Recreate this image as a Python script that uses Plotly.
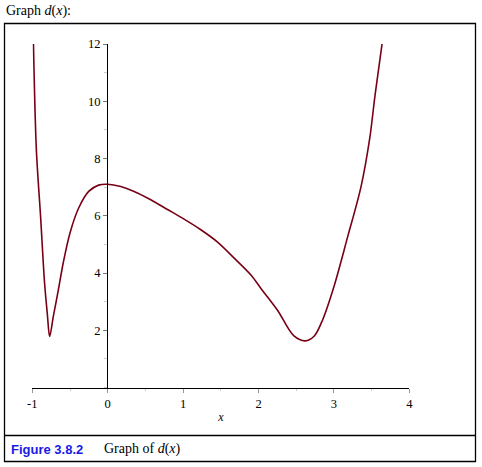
import plotly.graph_objects as go

# Curve values
x_vals = [-0.985, -0.946, -0.89, -0.837, -0.80, -0.77, -0.72, -0.655, -0.59,
          -0.5, -0.385, -0.252, -0.12, 0.0, 0.173, 0.35, 0.571, 0.793, 1.013,
          1.235, 1.457, 1.678, 1.90, 2.03, 2.25, 2.47, 2.62, 2.74, 2.85,
          3.0, 3.183, 3.36, 3.475, 3.545, 3.64]
d_vals = [12.05, 8.3, 5.97, 3.64, 2.55, 1.78, 2.5, 3.4, 4.35,
          5.4, 6.27, 6.85, 7.07, 7.1, 7.02, 6.85, 6.56, 6.22, 5.88,
          5.51, 5.08, 4.52, 3.93, 3.47, 2.71, 1.8, 1.63, 1.8, 2.36,
          3.52, 5.27, 7.02, 8.7, 10.2, 12.03]

x_ticks = [-1, 0, 1, 2, 3, 4]
x_tick_text = ["-1", "0", "1", "2", "3", "4"]
y_ticks = [2, 4, 6, 8, 10, 12]
y_tick_text = ["2", "4", "6", "8", "10", "12"]

W, H = 482, 467
def px(x):
    return x / W
def py(y):
    return 1 - y / H

fig = go.Figure()
fig.add_trace(go.Scatter(
    x=x_vals, y=d_vals, mode="lines",
    line=dict(color="rgb(120,0,20)", width=1.6, shape="spline", smoothing=0.9),
    hoverinfo="skip", showlegend=False,
))

serif = "Liberation Serif, Times New Roman, serif"

fig.update_layout(
    width=W, height=H,
    margin=dict(l=0, r=0, t=0, b=0, pad=0),
    paper_bgcolor="white", plot_bgcolor="white",
    xaxis=dict(
        domain=[px(32.3), px(409.3)], range=[-1, 4],
        automargin=False,
        showgrid=False, zeroline=False,
        showline=True, linecolor="black", linewidth=1,
        tickvals=x_ticks, ticktext=x_tick_text,
        ticks="outside", ticklen=4, tickcolor="#999",
        minor=dict(dtick=0.5, ticks="outside", ticklen=2, tickcolor="#ccc"),
        tickfont=dict(family=serif, size=12.5, color="black"),
        title=dict(text="<i>x</i>", font=dict(family=serif, size=12, color="black"), standoff=3),
        fixedrange=True,
    ),
    yaxis=dict(
        domain=[py(387.5), py(44)], range=[0, 12],
        automargin=False,
        anchor="free", position=px(107),
        showgrid=False, zeroline=False,
        showline=True, linecolor="black", linewidth=1,
        tickvals=y_ticks, ticktext=y_tick_text,
        ticks="outside", ticklen=4, tickcolor="#777",
        minor=dict(dtick=1, ticks="outside", ticklen=3, tickcolor="#ccc"),
        tickfont=dict(family=serif, size=12.5, color="black"),
        fixedrange=True,
    ),
    shapes=[
        dict(type="rect", xref="paper", yref="paper",
             x0=px(4.5), x1=px(475.5), y0=py(461.5), y1=py(23.5),
             line=dict(color="black", width=1.3), layer="above"),
        dict(type="line", xref="paper", yref="paper",
             x0=px(4.5), x1=px(475.5), y0=py(435.5), y1=py(435.5),
             line=dict(color="black", width=1.3)),
    ],
    annotations=[
        dict(text="Graph <i>d</i>(<i>x</i>):", xref="paper", yref="paper",
             x=px(4), y=py(11), xanchor="left", yanchor="middle", showarrow=False,
             font=dict(family=serif, size=14, color="black")),
        dict(text="<b>Figure 3.8.2</b>", xref="paper", yref="paper",
             x=px(9), y=py(449), xanchor="left", yanchor="middle", showarrow=False,
             font=dict(family="Liberation Sans, Arial, sans-serif", size=13, color="#1a1ae6")),
        dict(text="Graph of <i>d</i>(<i>x</i>)", xref="paper", yref="paper",
             x=px(102), y=py(449), xanchor="left", yanchor="middle", showarrow=False,
             font=dict(family=serif, size=14, color="black")),
    ],
)

fig.write_html(
    "out.html",
    config={"displayModeBar": False},
    post_script="document.body.style.margin='0';document.body.style.overflow='hidden';",
)
